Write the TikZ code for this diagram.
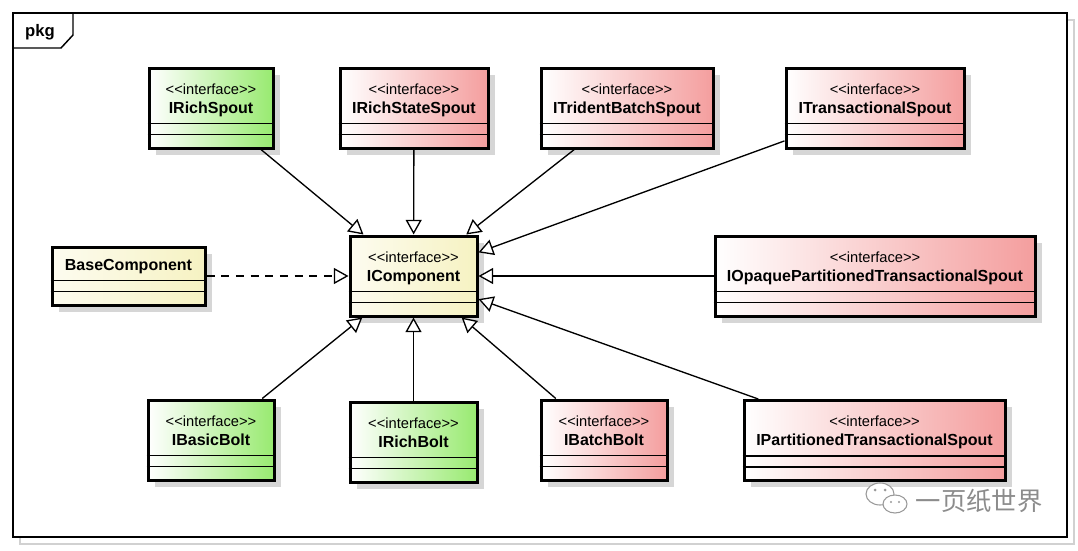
\documentclass[tikz,border=0pt]{standalone}
\usepackage{fontspec}
\setmainfont{Liberation Sans}
\newfontfamily\cjk{Noto Sans CJK SC}
\usetikzlibrary{arrows.meta,positioning,shadows}
\definecolor{spoutred}{RGB}{244,158,158}
\definecolor{boltgreen}{RGB}{152,234,112}
\definecolor{compcream}{RGB}{246,242,194}
\definecolor{shadowgray}{RGB}{214,214,214}
\newcommand{\iface}{{\mdseries\fontsize{11}{14.25}\selectfont<{}<interface>{}>}}
\tikzset{
  uml/.style={draw, line width=2.25pt, minimum height=60pt, inner sep=0pt,
    drop shadow={shadow xshift=5pt, shadow yshift=-5pt, fill=shadowgray, opacity=1}},
  boltbox/.style={uml, left color=white, right color=boltgreen},
  spoutbox/.style={uml, left color=white, right color=spoutred},
  compbox/.style={uml, left color=compcream!25, right color=compcream},
  head/.style={align=center, inner sep=0pt, font=\bfseries\fontsize{12}{14.25}\selectfont},
  slot/.style={line width=0.9pt},
  impl/.style={line width=1pt, -{Triangle[fill=white, length=11pt, width=12pt]}},
  wm/.style={draw=black!40, line width=0.8pt}
}
\begin{document}
\begin{tikzpicture}[x=0.75pt, y=-0.75pt]
\useasboundingbox[fill=white] (0,0) rectangle (1078,550);
% frame
\draw[black!18, line width=0.8pt] (20,20) rectangle (1074,544);
\draw[fill=white, line width=1.1pt] (13,13) rectangle (1067,537);
\draw[line width=1.1pt] (13,48) -- (61,48) -- (73,35) -- (73,13);
\node[font=\bfseries\fontsize{12.5}{14}\selectfont] (pkg) at (40,32) {pkg};
% spouts
\node[boltbox, minimum width=93pt] (RS) at (211,108) {};
\node[head, below=12.5pt of RS.north] (RS-h) {\iface\\IRichSpout};
\node[spoutbox, minimum width=111pt] (RSS) at (414,108) {};
\node[head, below=12.5pt of RSS.north] (RSS-h) {\iface\\IRichStateSpout};
\node[spoutbox, minimum width=129pt] (TBS) at (627,108) {};
\node[head, below=12.5pt of TBS.north] (TBS-h) {\iface\\ITridentBatchSpout};
\node[spoutbox, minimum width=133.5pt] (TS) at (875,108) {};
\node[head, below=12.5pt of TS.north] (TS-h) {\iface\\ITransactionalSpout};
% middle row
\node[compbox, minimum width=114.75pt, minimum height=43.5pt] (BC) at (128.5,276) {};
\node[head, below=10pt of BC.north] (BC-h) {BaseComponent};
\node[compbox, minimum width=95.25pt] (IC) at (413.5,276) {};
\node[head, below=12.5pt of IC.north] (IC-h) {\iface\\IComponent};
\node[spoutbox, minimum width=240pt] (OPTS) at (875,276) {};
\node[head, below=12.5pt of OPTS.north] (OPTS-h) {\iface\\IOpaquePartitionedTransactionalSpout};
% bolts
\node[boltbox, minimum width=94.5pt] (BB) at (211,440) {};
\node[head, below=12.5pt of BB.north] (BB-h) {\iface\\IBasicBolt};
\node[boltbox, minimum width=95.25pt] (RB) at (413.5,442) {};
\node[head, below=12.5pt of RB.north] (RB-h) {\iface\\IRichBolt};
\node[spoutbox, minimum width=94.5pt] (BAB) at (604,440) {};
\node[head, below=12.5pt of BAB.north] (BAB-h) {\iface\\IBatchBolt};
\node[spoutbox, minimum width=195.75pt] (PTS) at (874.5,440.5) {};
\node[head, below=12.5pt of PTS.north] (PTS-h) {\iface\\IPartitionedTransactionalSpout};
% empty compartments
\foreach \b in {RS,RSS,TBS,TS,BC,IC,OPTS,BB,RB,BAB,PTS}{
  \draw[slot] ([yshift=19.5pt]\b.south west) -- ([yshift=19.5pt]\b.south east);
  \draw[slot] ([yshift=11.25pt]\b.south west) -- ([yshift=11.25pt]\b.south east);
}
\path[impl]
  (RS) edge (IC)
  (RSS) edge (IC)
  (TBS) edge (IC)
  (TS) edge (IC)
  (OPTS) edge (IC)
  (PTS) edge (IC)
  (BAB) edge (IC)
  (RB) edge (IC)
  (BB) edge (IC)
  (BC) edge [dash pattern=on 6pt off 5pt] (IC)
;
% watermark
\draw[wm, fill=white] (880,494) ellipse [x radius=14, y radius=11];
\draw[wm, fill=white] (895,504) ellipse [x radius=12, y radius=9];
\fill[black!40] (875,490) circle [radius=1.5] (885,490) circle [radius=1.5]
  (891,502) circle [radius=1.2] (899,502) circle [radius=1.2];
\node[font=\cjk\fontsize{19}{19}\selectfont, text=black!45] (WM) at (979,501) {一页纸世界};
\end{tikzpicture}
\end{document}
